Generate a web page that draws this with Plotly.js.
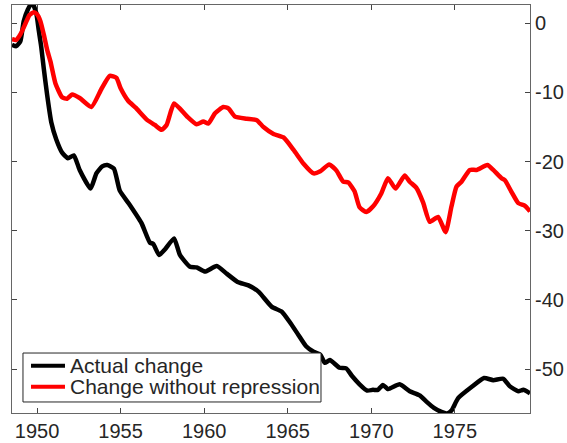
<!DOCTYPE html>
<html>
<head>
<meta charset="utf-8">
<script src="https://cdn.plot.ly/plotly-3.0.1.min.js"></script>
<style>html,body{margin:0;padding:0;background:#fff;}#chart{width:567px;height:443px;}</style>
</head>
<body>
<div id="chart"></div>
<script>
var actualYears = [1948.5,1948.75,1949.0,1949.2,1949.45,1949.7,1949.95,1950.1,1950.25,1950.4,1950.6,1950.85,1951.15,1951.5,1951.85,1952.2,1952.55,1953.2,1953.55,1953.9,1954.2,1954.6,1954.95,1955.5,1956.25,1956.75,1956.95,1957.3,1957.65,1958.2,1958.55,1959.15,1959.55,1960.05,1960.75,1961.35,1962.0,1962.65,1963.25,1964.05,1964.65,1965.15,1965.65,1966.1,1966.55,1966.95,1967.22,1967.52,1968.1,1968.5,1968.85,1969.3,1969.75,1970.1,1970.4,1970.7,1971.0,1971.7,1972.3,1972.9,1973.3,1973.75,1974.2,1974.55,1974.8,1975.2,1976.0,1976.75,1977.3,1977.9,1978.3,1978.8,1979.1,1979.5];
var actualChange = [-3.1,-3.3,-2.6,0.3,2.0,3.0,1.5,-1.0,-3.4,-6.5,-10.3,-14.3,-16.8,-18.7,-19.5,-19.1,-21.2,-23.9,-21.7,-20.7,-20.5,-21.0,-24.2,-26.1,-28.9,-31.7,-31.9,-33.5,-32.7,-31.1,-33.5,-35.2,-35.3,-35.9,-35.1,-36.2,-37.4,-37.9,-38.8,-41.0,-41.7,-43.3,-45.1,-46.7,-47.5,-47.9,-49.1,-48.7,-49.8,-49.9,-51.0,-52.2,-53.1,-53.0,-53.0,-52.3,-52.9,-52.2,-53.2,-53.8,-54.7,-55.6,-56.2,-56.4,-56.0,-54.2,-52.6,-51.3,-51.6,-51.4,-52.5,-53.2,-53.0,-53.5];

var noRepYears = [1948.5,1948.75,1949.0,1949.2,1949.55,1949.8,1950.0,1950.2,1950.4,1950.6,1950.8,1951.1,1951.5,1951.8,1952.1,1952.55,1953.25,1953.85,1954.35,1954.75,1955.0,1955.45,1955.9,1956.6,1957.05,1957.45,1957.75,1958.2,1958.95,1959.55,1959.95,1960.25,1960.65,1961.15,1961.45,1961.85,1962.55,1963.15,1963.55,1964.15,1964.75,1965.35,1965.95,1966.55,1966.95,1967.48,1967.92,1968.32,1968.62,1969.0,1969.3,1969.7,1970.1,1970.6,1971.0,1971.45,1972.0,1972.3,1972.7,1973.1,1973.5,1974.0,1974.45,1974.8,1975.1,1975.4,1975.9,1976.3,1976.95,1977.3,1977.8,1978.0,1978.4,1978.8,1979.2,1979.5];
var changeWithoutRepression = [-2.3,-2.4,-1.6,-0.6,1.2,1.6,1.3,0.3,-1.6,-3.8,-5.5,-8.7,-10.7,-10.9,-10.3,-10.8,-12.1,-9.5,-7.6,-7.9,-9.4,-11.2,-12.2,-14.0,-14.7,-15.4,-14.7,-11.6,-13.4,-14.6,-14.2,-14.5,-13.0,-12.1,-12.3,-13.5,-13.8,-14.0,-15.0,-16.0,-16.5,-18.3,-20.3,-21.7,-21.4,-20.4,-21.3,-22.9,-23.0,-24.3,-26.6,-27.3,-26.5,-24.6,-22.4,-23.9,-22.0,-22.9,-23.8,-25.9,-28.7,-28.0,-30.2,-26.5,-23.6,-22.9,-21.2,-21.2,-20.5,-21.2,-22.4,-22.7,-24.4,-26.0,-26.4,-27.2];

var xTickVals = [1950,1955,1960,1965,1970,1975];
var xTickText = ["1950","1955","1960","1965","1970","1975"];
var yTickVals = [0,-10,-20,-30,-40,-50];
var yTickText = ["0","-10","-20","-30","-40","-50"];
var seriesNames = ["Actual change","Change without repression"];
var seriesColors = ["#000000","#ff0000"];

var fam = "Liberation Sans, Arial, sans-serif";
var tickFont = {family: fam, size: 20, color: "#262626"};
var legendFont = {family: fam, size: 21, color: "#262626"};

var traces = [
  {x: actualYears, y: actualChange, name: seriesNames[0], type: "scatter", mode: "lines",
   line: {color: seriesColors[0], width: 4.5, shape: "spline", smoothing: 0.5}},
  {x: noRepYears, y: changeWithoutRepression, name: seriesNames[1], type: "scatter", mode: "lines",
   line: {color: seriesColors[1], width: 4.5, shape: "spline", smoothing: 0.5}}
];

var axisCommon = {
  showline: true, linecolor: "#666666", linewidth: 1, mirror: "ticks",
  ticks: "inside", ticklen: 5, tickwidth: 1, tickcolor: "#444444",
  showgrid: false, zeroline: false, tickfont: tickFont, fixedrange: true
};

// Legend box (MATLAB-style compact legend) built from shapes + annotations
var lgX0 = 0.0212, lgX1 = 0.5965, lgY0 = 0.027, lgY1 = 0.147;
var rowY = [0.116, 0.0645];
var sampleX0 = 0.0367, sampleX1 = 0.1023, textX = 0.108;
var shapes = [{type: "rect", xref: "paper", yref: "paper", x0: lgX0, x1: lgX1, y0: lgY0, y1: lgY1,
  line: {color: "#262626", width: 1}, fillcolor: "#ffffff", layer: "above"}];
var annotations = [];
for (var i = 0; i < seriesNames.length; i++) {
  shapes.push({type: "line", xref: "paper", yref: "paper", x0: sampleX0, x1: sampleX1, y0: rowY[i], y1: rowY[i],
    line: {color: seriesColors[i], width: 4}, layer: "above"});
  annotations.push({xref: "paper", yref: "paper", x: textX, y: rowY[i], xanchor: "left", yanchor: "middle",
    text: seriesNames[i], showarrow: false, font: legendFont});
}

var layout = {
  width: 567, height: 443, autosize: false,
  margin: {l: 12, r: 37, t: 5, b: 30, pad: 0},
  paper_bgcolor: "#ffffff", plot_bgcolor: "#ffffff",
  font: tickFont,
  showlegend: false,
  xaxis: Object.assign({}, axisCommon, {range: [1948.5, 1979.5], tickmode: "array", tickvals: xTickVals, ticktext: xTickText}),
  yaxis: Object.assign({}, axisCommon, {side: "right", range: [-56.35, 2.65], tickmode: "array", tickvals: yTickVals, ticktext: yTickText}),
  shapes: shapes,
  annotations: annotations
};

Plotly.newPlot("chart", traces, layout, {displayModeBar: false, staticPlot: true});
</script>
</body>
</html>
